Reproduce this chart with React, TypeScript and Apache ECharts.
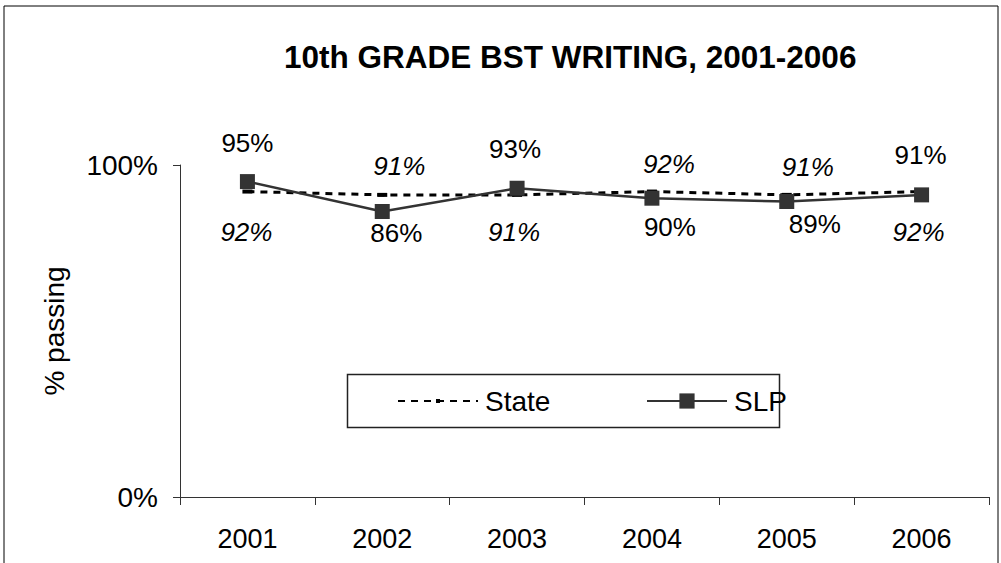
import React, { useEffect, useRef } from "react";
import * as echarts from "echarts";

const years = ["2001", "2002", "2003", "2004", "2005", "2006"];
const stateValues = [92, 91, 91, 92, 91, 92];
const slpValues = [95, 86, 93, 90, 89, 91];
const yTicks = [0, 100];

// label placement relative to each point (dx, dy)
const stateLabelOffsets = [[-1, 40], [17, -29], [-3, 37], [17, -28], [21, -28], [-3, 40]];
const slpLabelOffsets = [[0, -39], [14, 22], [-2, -39], [18, 29], [28, 22], [-1, -40]];

const FONT = "'Liberation Sans', Arial, Helvetica, sans-serif";

export default function App() {
  const ref = useRef<HTMLDivElement>(null);
  useEffect(() => {
    if (!ref.current) return;
    const chart = echarts.init(ref.current, null, { renderer: "svg" });
    const stateData = stateValues.map((v, i) => ({
      value: v,
      label: { offset: stateLabelOffsets[i] },
    }));
    const slpData = slpValues.map((v, i) => ({
      value: v,
      label: { offset: slpLabelOffsets[i] },
    }));
    const legendText = { fontFamily: FONT, fontSize: 28, color: "#000", lineHeight: 30, padding: [0, 0, 0, 2] };
    chart.setOption({
      animation: false,
      backgroundColor: "#ffffff",
      textStyle: { fontFamily: FONT, color: "#000" },
      title: {
        text: "10th GRADE BST WRITING, 2001-2006",
        left: 284,
        top: 41,
        padding: 0,
        textStyle: { fontFamily: FONT, fontSize: 31.5, fontWeight: "bold", color: "#000" },
      },
      graphic: [
        {
          type: "rect",
          shape: { x: 4, y: 6, width: 994, height: 620 },
          style: { fill: "none", stroke: "#000", lineWidth: 1 },
          silent: true,
          z: -1,
        },
        {
          type: "rect",
          shape: { x: 347.5, y: 374.5, width: 432, height: 53 },
          style: { fill: "none", stroke: "#222", lineWidth: 1.5 },
          silent: true,
          z: -1,
        },
      ],
      legend: [
        {
          left: 397,
          top: 386,
          padding: 0,
          itemWidth: 80,
          itemHeight: 5,
          textStyle: legendText,
          data: ["State"],
        },
        {
          left: 646,
          top: 386,
          padding: 0,
          itemWidth: 80,
          itemHeight: 19,
          textStyle: legendText,
          data: ["SLP"],
        },
      ],
      grid: { left: 180, right: 12, top: 165, bottom: 66, containLabel: false },
      xAxis: {
        type: "category",
        data: years,
        boundaryGap: true,
        axisLine: { lineStyle: { color: "#333", width: 1 } },
        axisTick: { show: true, length: 8, inside: false, lineStyle: { color: "#333" } },
        axisLabel: { fontFamily: FONT, fontSize: 27, color: "#000", margin: 28 },
        splitLine: { show: false },
      },
      yAxis: {
        type: "value",
        min: yTicks[0],
        max: yTicks[yTicks.length - 1],
        interval: 100,
        name: "% passing",
        nameLocation: "middle",
        nameGap: 112,
        nameTextStyle: { fontFamily: FONT, fontSize: 28, color: "#000" },
        axisLine: { show: true, lineStyle: { color: "#333", width: 1 } },
        axisTick: { show: true, length: 7, lineStyle: { color: "#333" } },
        axisLabel: { fontFamily: FONT, fontSize: 28, color: "#000", margin: 22, formatter: "{value}%" },
        splitLine: { show: false },
      },
      series: [
        {
          name: "State",
          type: "line",
          data: stateData,
          symbol: "rect",
          symbolSize: [10, 4],
          itemStyle: { color: "#000" },
          lineStyle: { color: "#000", width: 3, type: [7, 6] },
          label: {
            show: true,
            position: "inside",
            formatter: "{c}%",
            fontFamily: FONT,
            fontSize: 26,
            fontStyle: "italic",
            color: "#000",
            align: "center",
            verticalAlign: "middle",
          },
          z: 2,
        },
        {
          name: "SLP",
          type: "line",
          data: slpData,
          symbol: "rect",
          symbolSize: 15,
          itemStyle: { color: "#333" },
          lineStyle: { color: "#333", width: 2.5 },
          label: {
            show: true,
            position: "inside",
            formatter: "{c}%",
            fontFamily: FONT,
            fontSize: 26,
            color: "#000",
            align: "center",
            verticalAlign: "middle",
          },
          z: 3,
        },
      ],
    });
    return () => chart.dispose();
  }, []);
  return (
    <div
      ref={ref}
      style={{ position: "fixed", left: 0, top: 0, width: 1001, height: 563, background: "#fff" }}
    />
  );
}
